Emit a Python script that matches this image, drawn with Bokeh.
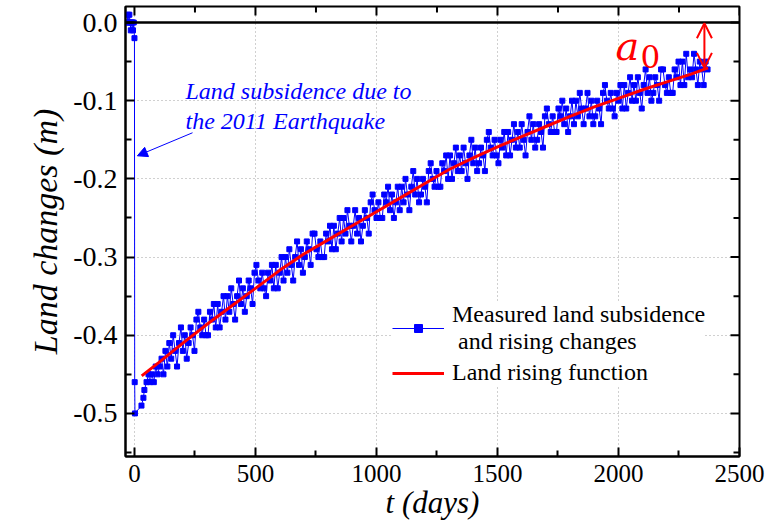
from bokeh.plotting import figure
from bokeh.models import (Range1d, Span, Arrow, NormalHead, OpenHead,
                          Legend, LegendItem, Label, FixedTicker, PrintfTickFormatter,
                          ColumnDataSource)
from bokeh.embed import file_html
from bokeh.resources import INLINE

# ---------------- data ----------------
# before the 2011 earthquake and the drop (days, m)
t_pre = [-30, -27, -24, -21, -18, -15, -12, -9, -6, -3, 0, 1, 2]
v_pre = [0.00, 0.01, 0.00, 0.01, 0.00, -0.01, 0.00, 0.00, -0.01, 0.00, -0.02, -0.46, -0.50]

# after the earthquake: measured land changes (days, cm)
t_post = [29, 37, 41, 50, 58,
          64, 72, 80, 88, 96, 104, 112, 120, 128, 136,
          144, 152, 160, 168, 176, 184, 192, 200, 208, 216,
          224, 232, 240, 248, 256, 264, 272, 280, 288, 296,
          304, 312, 320, 328, 336, 344, 352, 360, 368, 376,
          384, 392, 400, 408, 416, 424, 432, 440, 448, 456,
          464, 472, 480, 488, 496, 504, 512, 520, 528, 536,
          544, 552, 560, 568, 576, 584, 592, 600, 608, 616,
          624, 632, 640, 648, 656, 664, 672, 680, 688, 696,
          704, 712, 720, 728, 736, 744, 752, 760, 768, 776,
          784, 792, 800, 808, 816, 824, 832, 840, 848, 856,
          864, 872, 880, 888, 896, 904, 912, 920, 928, 936,
          944, 952, 960, 968, 976, 984, 992, 1000, 1008, 1016,
          1024, 1032, 1040, 1048, 1056, 1064, 1072, 1080, 1088, 1096,
          1104, 1112, 1120, 1128, 1136, 1144, 1152, 1160, 1168, 1176,
          1184, 1192, 1200, 1208, 1216, 1224, 1232, 1240, 1248, 1256,
          1264, 1272, 1280, 1288, 1296, 1304, 1312, 1320, 1328, 1336,
          1344, 1352, 1360, 1368, 1376, 1384, 1392, 1400, 1408, 1416,
          1424, 1432, 1440, 1448, 1456, 1464, 1472, 1480, 1488, 1496,
          1504, 1512, 1520, 1528, 1536, 1544, 1552, 1560, 1568, 1576,
          1584, 1592, 1600, 1608, 1616, 1624, 1632, 1640, 1648, 1656,
          1664, 1672, 1680, 1688, 1696, 1704, 1712, 1720, 1728, 1736,
          1744, 1752, 1760, 1768, 1776, 1784, 1792, 1800, 1808, 1816,
          1824, 1832, 1840, 1848, 1856, 1864, 1872, 1880, 1888, 1896,
          1904, 1912, 1920, 1928, 1936, 1944, 1952, 1960, 1968, 1976,
          1984, 1992, 2000, 2008, 2016, 2024, 2032, 2040, 2048, 2056,
          2064, 2072, 2080, 2088, 2096, 2104, 2112, 2120, 2128, 2136,
          2144, 2152, 2160, 2168, 2176, 2184, 2192, 2200, 2208, 2216,
          2224, 2232, 2240, 2248, 2256, 2264, 2272, 2280, 2288, 2296,
          2304, 2312, 2320, 2328, 2336, 2344, 2352, 2360, 2368]
v_post_cm = [-49, -48, -47, -46, -45,
             -46, -45, -46, -44, -45, -44, -43, -45, -42, -44,
             -41, -43, -40, -42, -44, -41, -39, -42, -40, -43,
             -41, -39, -40, -42, -38, -37, -39, -40, -38, -40,
             -40, -37, -38, -36, -39, -36, -39, -37, -35, -38,
             -35, -37, -34, -36, -38, -35, -33, -36, -34, -37,
             -35, -33, -34, -36, -32, -31, -33, -34, -32, -34,
             -35, -32, -33, -31, -34, -31, -34, -32, -30, -33,
             -30, -32, -29, -31, -33, -30, -28, -31, -29, -32,
             -30, -28, -29, -31, -27, -27, -29, -30, -28, -30,
             -30, -27, -28, -26, -29, -26, -29, -27, -25, -28,
             -25, -27, -24, -26, -28, -26, -24, -27, -25, -28,
             -26, -24, -25, -27, -23, -22, -24, -25, -23, -25,
             -25, -22, -23, -21, -24, -22, -25, -23, -21, -24,
             -21, -23, -20, -22, -24, -21, -19, -22, -20, -23,
             -22, -20, -21, -23, -19, -18, -20, -21, -19, -21,
             -21, -18, -19, -17, -20, -17, -20, -18, -16, -19,
             -17, -19, -16, -18, -20, -17, -15, -18, -16, -19,
             -18, -16, -17, -19, -15, -14, -16, -17, -15, -17,
             -18, -15, -16, -14, -17, -14, -17, -15, -13, -16,
             -14, -16, -13, -15, -17, -14, -12, -15, -13, -16,
             -15, -13, -14, -16, -12, -11, -13, -14, -12, -14,
             -14, -11, -12, -10, -13, -11, -14, -12, -10, -13,
             -10, -12, -9, -11, -13, -11, -9, -12, -10, -13,
             -12, -10, -11, -13, -9, -8, -10, -11, -9, -11,
             -12, -9, -10, -8, -11, -8, -11, -9, -7, -10,
             -8, -10, -7, -9, -11, -8, -6, -9, -7, -10,
             -9, -7, -8, -10, -6, -6, -8, -9, -7, -9,
             -9, -6, -7, -5, -8, -5, -8, -4, -7, -6,
             -7, -4, -6, -8, -5, -6, -8, -5, -6]
v_post = [c / 100 for c in v_post_cm]

# fitted land rising function (days, m)
t_fit = [30, 100, 200, 300, 400, 500, 600, 700, 800, 900, 1000, 1100, 1200,
         1300, 1400, 1500, 1600, 1700, 1800, 1900, 2000, 2100, 2200, 2300, 2370]
v_fit = [-0.452, -0.435, -0.410, -0.386, -0.363, -0.340, -0.317, -0.296, -0.278, -0.260,
         -0.242, -0.224, -0.206, -0.188, -0.173, -0.159, -0.146, -0.133, -0.120, -0.108,
         -0.097, -0.086, -0.076, -0.066, -0.058]

x_major = [0, 500, 1000, 1500, 2000, 2500]
x_minor = [250, 750, 1250, 1750, 2250]
y_major = [-0.5, -0.4, -0.3, -0.2, -0.1, 0.0]
y_minor = [-0.55, -0.45, -0.35, -0.25, -0.15, -0.05]

SERIF = "Liberation Serif"
BLUE = "#0000ff"
RED = "#ff0000"

X0, X1 = -37, 2500
Y0, Y1 = -0.5551, 0.0205
FRAME_W, FRAME_H = 614, 449          # intended frame size in px (for mirrored ticks)
px_x = FRAME_W / (X1 - X0)
px_y = FRAME_H / (Y1 - Y0)

meas = ColumnDataSource(dict(t=t_pre + t_post, v=v_pre + v_post))
fit = ColumnDataSource(dict(t=t_fit, v=v_fit))

p = figure(width=768, height=522, x_range=Range1d(X0, X1), y_range=Range1d(Y0, Y1),
           output_backend="svg", toolbar_location=None,
           min_border_left=125, min_border_right=29, min_border_top=6, min_border_bottom=62)

p.outline_line_color = "black"
p.outline_line_width = 2
p.background_fill_color = "white"
p.border_fill_color = "white"

xt = FixedTicker(ticks=x_major, minor_ticks=x_minor)
yt = FixedTicker(ticks=y_major, minor_ticks=y_minor)

for ax, tk in ((p.xaxis[0], xt), (p.yaxis[0], yt)):
    ax.ticker = tk
    ax.axis_line_width = 2
    ax.axis_line_color = "black"
    ax.major_tick_in = 9
    ax.major_tick_out = 0
    ax.minor_tick_in = 6
    ax.minor_tick_out = 0
    ax.major_tick_line_width = 2
    ax.minor_tick_line_width = 2
    ax.major_tick_line_color = "black"
    ax.minor_tick_line_color = "black"
    ax.major_label_text_font = SERIF
    ax.major_label_text_color = "black"
    ax.axis_label_text_font = SERIF
    ax.axis_label_text_font_style = "italic"
    ax.axis_label_text_color = "black"

xa = p.xaxis[0]
ya = p.yaxis[0]
xa.axis_label = "t (days)"
ya.axis_label = "Land changes (m)"
ya.formatter = PrintfTickFormatter(format="%.1f")
xa.major_label_text_font_size = "25px"
ya.major_label_text_font_size = "28px"
xa.axis_label_text_font_size = "31px"
ya.axis_label_text_font_size = "34px"
xa.major_label_standoff = 8
ya.major_label_standoff = 8
xa.axis_label_standoff = 0
ya.axis_label_standoff = 6

# mirrored ticks on the top and right edges of the frame
p.segment(x0=x_major, y0=[Y1] * len(x_major), x1=x_major,
          y1=[Y1 - 9 / px_y] * len(x_major), line_color="black", line_width=2)
p.segment(x0=x_minor, y0=[Y1] * len(x_minor), x1=x_minor,
          y1=[Y1 - 6 / px_y] * len(x_minor), line_color="black", line_width=2)
p.segment(x0=[X1] * len(y_major), y0=y_major, x1=[X1 - 9 / px_x] * len(y_major),
          y1=y_major, line_color="black", line_width=2)
p.segment(x0=[X1] * len(y_minor), y0=y_minor, x1=[X1 - 6 / px_x] * len(y_minor),
          y1=y_minor, line_color="black", line_width=2)

p.xgrid.ticker = xt
p.ygrid.ticker = yt
for g in (p.xgrid[0], p.ygrid[0]):
    g.grid_line_color = "#a0a0a0"
    g.grid_line_dash = "1 3"
    g.grid_line_width = 1

p.add_layout(Span(location=0, dimension="width", line_color="black", line_width=2.5))

r_line = p.line("t", "v", source=meas, line_color=BLUE, line_width=1)
r_pts = p.scatter("t", "v", source=meas, marker="square", size=5,
                  fill_color=BLUE, line_color=BLUE)
r_fit = p.line("t", "v", source=fit, line_color=RED, line_width=3)

# annotation of the earthquake drop
p.add_layout(Label(x=211, y=-0.087, text="Land subsidence due to", text_font=SERIF,
                   text_font_style="italic", text_font_size="24px", text_color=BLUE,
                   text_baseline="middle"))
p.add_layout(Label(x=211, y=-0.126, text="the 2011 Earthquake", text_font=SERIF,
                   text_font_style="italic", text_font_size="24px", text_color=BLUE,
                   text_baseline="middle"))
p.add_layout(Arrow(end=NormalHead(size=10, fill_color=BLUE, line_color=BLUE),
                   x_start=240, y_start=-0.141, x_end=12, y_end=-0.1705,
                   line_color=BLUE, line_width=1))

# a0 marker
p.add_layout(Label(x=1988, y=-0.0295, text="a", text_font="DejaVu Serif",
                   text_font_style="italic", text_font_size="40px", text_color=RED,
                   text_baseline="alphabetic"))
p.add_layout(Label(x=2091, y=-0.043, text="0", text_font="DejaVu Serif",
                   text_font_size="31px", text_color=RED, text_baseline="alphabetic"))
p.add_layout(Arrow(start=OpenHead(size=15, line_color=RED, line_width=2),
                   end=OpenHead(size=15, line_color=RED, line_width=2),
                   x_start=2355, y_start=-0.001, x_end=2355, y_end=-0.058,
                   line_color=RED, line_width=2))

legend = Legend(items=[
    LegendItem(label="Measured land subsidence\n and rising changes", renderers=[r_line, r_pts]),
    LegendItem(label="Land rising function", renderers=[r_fit]),
], location=(267, 70))
legend.label_text_font = SERIF
legend.label_text_font_size = "24px"
legend.label_text_color = "black"
legend.glyph_width = 52
legend.label_standoff = 8
legend.padding = 0
legend.margin = 0
legend.spacing = 4
legend.border_line_alpha = 0
legend.background_fill_color = "white"
legend.background_fill_alpha = 1
p.add_layout(legend, "center")

open("out.html", "w").write(file_html(p, INLINE))
